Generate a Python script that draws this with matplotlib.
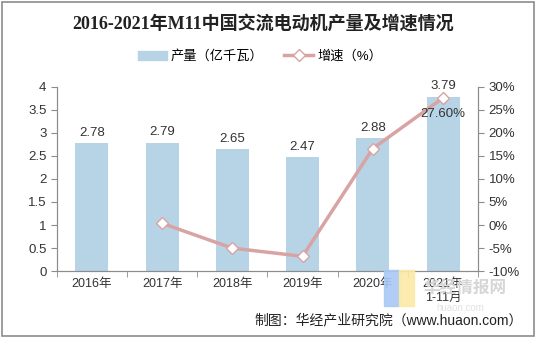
import matplotlib.pyplot as plt
from matplotlib.lines import Line2D
from matplotlib.patches import Patch, Rectangle

plt.rcParams['font.family'] = ['Liberation Sans', 'Noto Sans CJK SC']

years = ['2016年', '2017年', '2018年', '2019年', '2020年', '2021年\n1-11月']
output = [2.78, 2.79, 2.65, 2.47, 2.88, 3.79]
growth_idx = [1, 2, 3, 4, 5]
growth = [0.36, -5.02, -6.79, 16.60, 27.60]

bar_color = '#B7D4E6'
line_color = '#D9A3A3'
axis_color = '#8C8C8C'

fig = plt.figure(figsize=(5.36, 3.38), dpi=100)
fig.patches.append(Rectangle((0.004, 0.006), 0.992, 0.988, transform=fig.transFigure,
                             fill=False, edgecolor='#8C8C8C', linewidth=1.2))

# watermark (drawn behind the axes)
fig.patches.append(Rectangle((0.716, 0.095), 0.028, 0.105, transform=fig.transFigure,
                             color='#A9C8F5', alpha=0.9, zorder=0))
fig.patches.append(Rectangle((0.744, 0.095), 0.028, 0.105, transform=fig.transFigure,
                             color='#FBE9A6', alpha=0.9, zorder=0))
fig.text(0.79, 0.145, '华经情报网', fontsize=12, color='#D6D6D6', fontweight='bold',
         ha='left', va='center', zorder=0)
fig.text(0.815, 0.09, 'huaon.com', fontsize=7, color='#E2E2E2', ha='left', va='center', zorder=0)

ax = fig.add_axes([0.106, 0.198, 0.786, 0.545])
ax.patch.set_alpha(0)
x = list(range(len(years)))
ax.bar(x, output, width=0.47, color=bar_color, zorder=2)
for xi, v in zip(x, output):
    ax.text(xi, v + 0.09, f'{v:.2f}', ha='center', va='bottom', fontsize=9.5, color='#333333')

ax.set_xlim(-0.5, 5.5)
ax.set_ylim(0, 4)
ax.set_yticks([0, 0.5, 1, 1.5, 2, 2.5, 3, 3.5, 4])
ax.set_yticklabels(['0', '0.5', '1', '1.5', '2', '2.5', '3', '3.5', '4'])
ax.set_xticks(x)
ax.set_xticklabels(years)
ax.set_xticks([i - 0.5 for i in range(7)], minor=True)
ax.tick_params(axis='x', which='major', length=0, labelsize=9, pad=5, colors='#333333')
ax.tick_params(axis='x', which='minor', length=4, color=axis_color)
ax.tick_params(axis='y', labelsize=9.5, length=4, color=axis_color, colors='#333333')
ax.spines['top'].set_visible(False)
for s in ['left', 'bottom', 'right']:
    ax.spines[s].set_color(axis_color)

ax2 = ax.twinx()
ax2.plot(growth_idx, growth, color=line_color, linewidth=2.5, marker='D', markersize=6,
         markerfacecolor='white', markeredgecolor=line_color, markeredgewidth=1, zorder=3)
ax2.set_ylim(-10, 30)
ax2.set_yticks(range(-10, 31, 5))
ax2.set_yticklabels([f'{t}%' for t in range(-10, 31, 5)])
ax2.tick_params(axis='y', labelsize=9.5, length=4, color=axis_color, colors='#333333')
ax2.spines['top'].set_visible(False)
for s in ['left', 'bottom', 'right']:
    ax2.spines[s].set_color(axis_color)
ax2.text(growth_idx[-1], growth[-1] - 3.5, f'{growth[-1]:.2f}%', ha='center', va='center',
         fontsize=9.5, color='#333333')

fig.suptitle('2016-2021年M11中国交流电动机产量及增速情况', x=0.49, y=0.955,
             fontsize=13, fontweight='bold', color='#222222',
             family=['Liberation Serif', 'Noto Sans CJK SC'])

handles = [Patch(color=bar_color),
           Line2D([], [], color=line_color, linewidth=2.5, marker='D', markersize=6,
                  markerfacecolor='white', markeredgecolor=line_color)]
fig.legend(handles, ['产量（亿千瓦）', '增速（%）'], loc='center', bbox_to_anchor=(0.485, 0.833),
           ncol=2, frameon=False, fontsize=9.5, handlelength=2.2, columnspacing=1.6,
           handletextpad=0.3)

fig.text(0.975, 0.052, '制图：华经产业研究院（www.huaon.com）', fontsize=10, color='#222222',
         ha='right', va='center')

plt.savefig('out.png', dpi=100)
